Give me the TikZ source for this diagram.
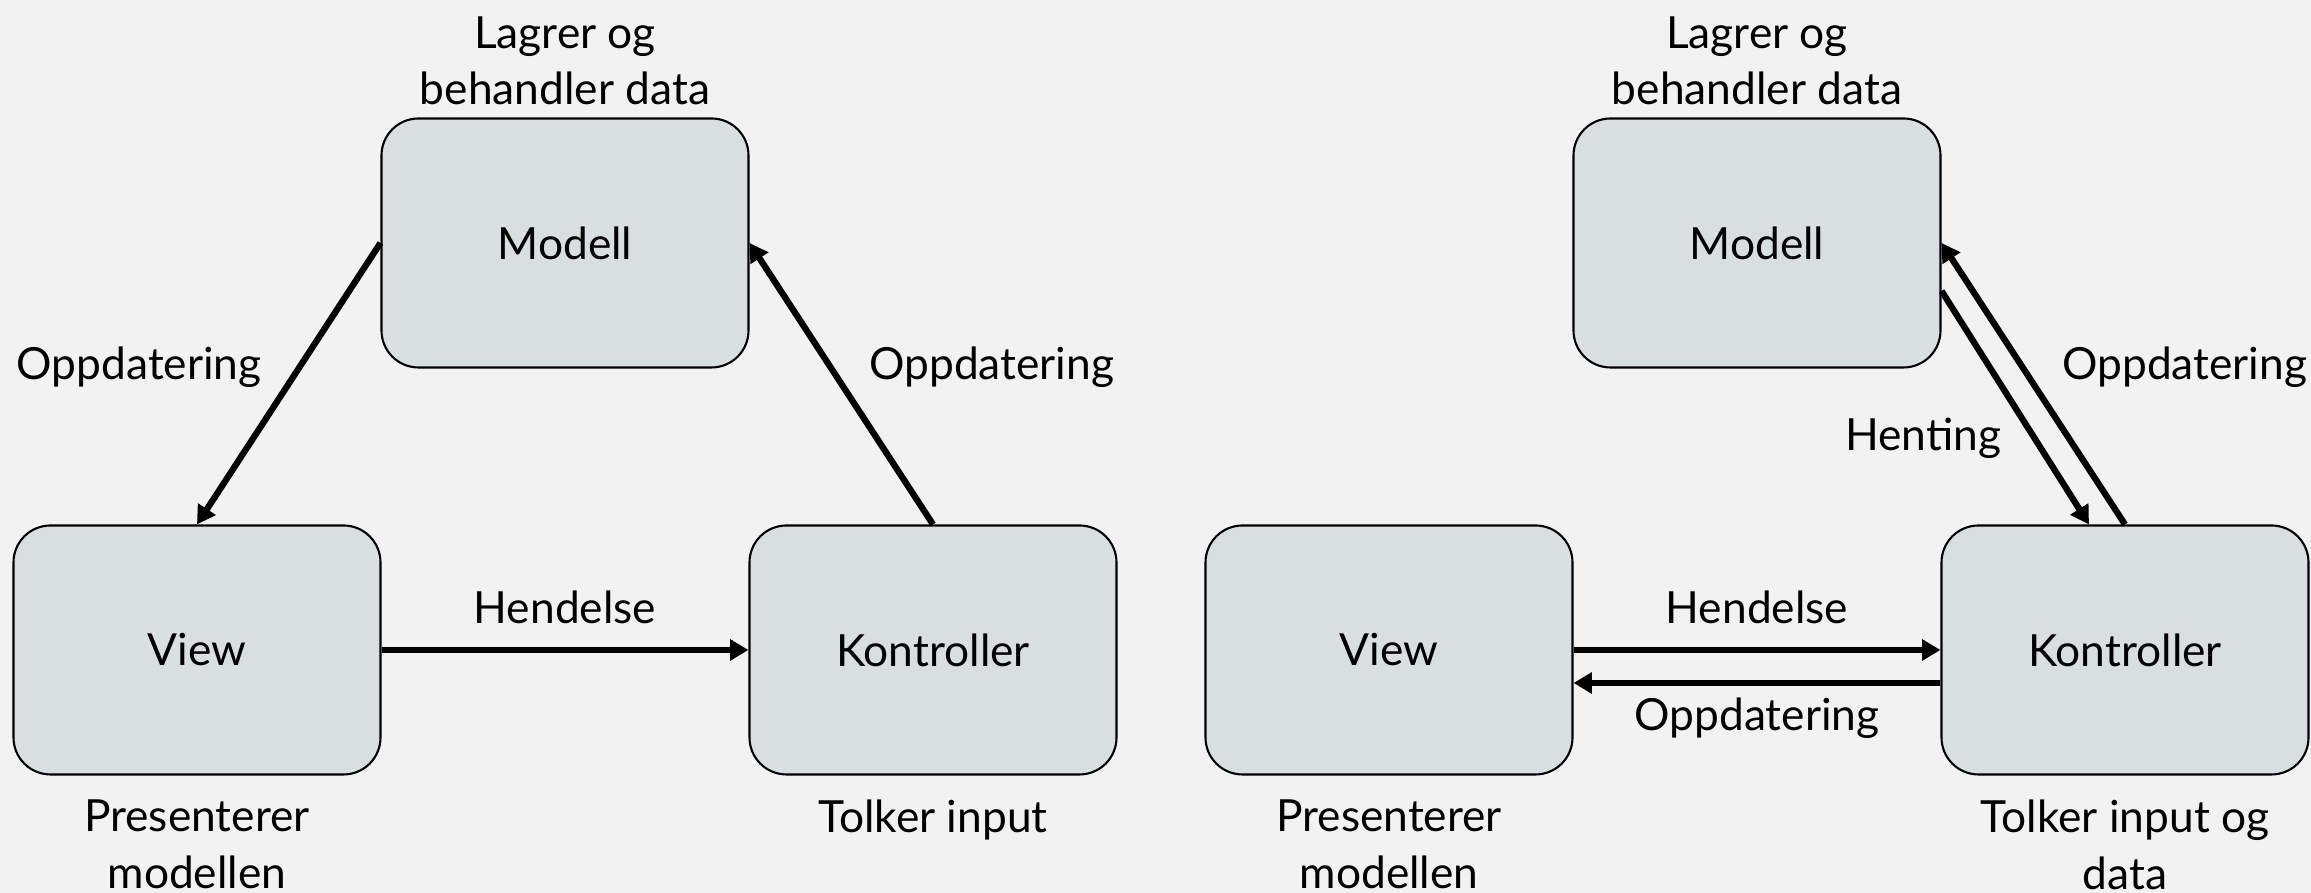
\documentclass[tikz,border=0pt]{standalone}
\usepackage{fontspec}
\setmainfont{Lato}
\usepackage{tikz}
\usetikzlibrary{arrows.meta,calc,positioning}

\definecolor{bggray}{RGB}{242,242,242}
\definecolor{boxgray}{RGB}{217,223,224}

\begin{document}
\begin{tikzpicture}[font=\fontsize{12.6}{16}\selectfont,
  box/.style={draw,line width=0.6pt,fill=boxgray,rounded corners=0.37cm,
    minimum width=3.67cm,minimum height=2.49cm},
  note/.style={align=center,inner sep=0pt},
  lbl/.style={inner sep=0pt},
  flow/.style={line width=1.8pt,-{Triangle[length=5.2pt,width=5.8pt]}}]
  \path [use as bounding box,fill=bggray] (0,0) rectangle (23.11,8.93);

  % left: model, view and controller in a ring
  \node [box] (modelA) at (5.65,6.5) {Modell};
  \node [box] (viewA) at (1.97,2.43) {View};
  \node [box] (ctrlA) at (9.33,2.43) {Kontroller};
  \node [note,above=0.12cm of modelA] (noteModelA) {Lagrer og\\behandler data};
  \node [note,below=0.24cm of viewA] (noteViewA) {Presenterer\\modellen};
  \node [note,below=0.24cm of ctrlA] (noteCtrlA) {Tolker input};
  \draw [flow] (modelA.west) -- node [lbl,pos=.44,left=.35cm] (updA1) {Oppdatering} (viewA.north);
  \draw [flow] (ctrlA.north) -- node [lbl,pos=.56,right=.36cm] (updA2) {Oppdatering} (modelA.east);
  \draw [flow] (viewA) -- node [lbl,above=.23cm] (eventA) {Hendelse} (ctrlA);

  % right: the controller goes between view and model
  \node [box] (modelB) at (17.57,6.5) {Modell};
  \node [box] (viewB) at (13.89,2.43) {View};
  \node [box] (ctrlB) at (21.25,2.43) {Kontroller};
  \node [note,above=0.12cm of modelB] (noteModelB) {Lagrer og\\behandler data};
  \node [note,below=0.24cm of viewB] (noteViewB) {Presenterer\\modellen};
  \node [note,below=0.24cm of ctrlB] (noteCtrlB) {Tolker input og\\data};
  \draw [flow] (ctrlB.north) -- node [lbl,pos=.56,right=.37cm] (updB1) {Oppdatering} (modelB.east);
  \draw [flow] ([yshift=-0.48cm]modelB.east) -- node [lbl,pos=.63,left=.3cm] (fetchB) {Henting} ([xshift=-0.36cm]ctrlB.north);
  \draw [flow] (viewB) -- node [lbl,above=.23cm] (eventB) {Hendelse} (ctrlB);
  \draw [flow] ([yshift=-0.33cm]ctrlB.west) -- node [lbl,below=.12cm] (updB2) {Oppdatering} ([yshift=-0.33cm]viewB.east);
\end{tikzpicture}
\end{document}
